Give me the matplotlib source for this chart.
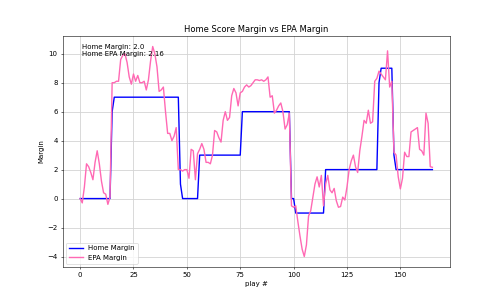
import numpy as np
import matplotlib
matplotlib.use("Agg")
import matplotlib.pyplot as plt

# home score margin after each play (0..165)
home_margin = (
    [0] * 15 +          # plays 0-14
    [6] +               # 15
    [7] * 31 +          # 16-46
    [1] +               # 47
    [0] * 8 +           # 48-55
    [3] * 20 +          # 56-75
    [6] * 23 +          # 76-98
    [0, 0] +            # 99-100
    [-1] * 14 +         # 101-114
    [2] * 25 +          # 115-139
    [8] +               # 140
    [9] * 6 +           # 141-146
    [3] +               # 147
    [2] * 18            # 148-165
)

# EPA based margin after each play
epa_margin = [
    0.0, -0.3, 0.8, 2.4, 2.2, 1.8, 1.3, 2.5, 3.3, 2.4,
    1.2, 0.4, 0.3, -0.4, 0.1, 8.0, 8.0, 8.1, 8.1, 9.6,
    9.9, 10.0, 9.4, 8.4, 7.9, 8.6, 8.1, 8.5, 8.0, 8.0,
    8.1, 7.5, 8.2, 9.5, 10.5, 10.0, 9.1, 7.4, 7.5, 7.7,
    6.0, 4.5, 4.5, 4.0, 4.3, 4.9, 2.0, 2.0, 1.9, 2.0,
    2.0, 1.4, 3.4, 3.3, 1.3, 3.1, 3.4, 3.8, 3.4, 2.5,
    2.5, 2.4, 3.0, 4.7, 4.6, 4.2, 3.9, 5.4, 6.0, 5.4,
    5.6, 7.1, 7.6, 7.3, 6.4, 7.3, 7.4, 7.7, 7.85, 7.7,
    7.8, 8.0, 8.2, 8.2, 8.15, 8.2, 8.1, 8.2, 8.4, 7.0,
    7.1, 5.9, 6.1, 6.4, 6.6, 6.0, 4.8, 5.1, 5.9, -0.5,
    -0.6, -0.5, -1.6, -2.6, -3.5, -4.0, -3.2, -1.2, -0.85, 0.1,
    1.0, 1.5, 0.8, 1.6, -0.5, 1.0, 1.6, 0.6, 0.4, 0.7,
    -0.15, -0.6, -0.55, 0.1, -0.1, 0.8, 2.0, 2.6, 3.0, 2.2,
    1.8, 3.3, 4.3, 5.4, 5.2, 6.1, 5.2, 5.3, 8.1, 8.3,
    8.8, 8.6, 8.4, 8.2, 10.2, 7.7, 8.1, 3.2, 3.0, 1.5,
    0.67, 1.4, 3.2, 2.9, 2.9, 4.6, 4.7, 4.8, 4.9, 3.4,
    3.3, 3.0, 5.9, 5.2, 2.2, 2.16,
]

plays = np.arange(len(home_margin))

fig, ax = plt.subplots(figsize=(10, 6), dpi=50)

ax.plot(plays, home_margin, color="blue", lw=2, label="Home Margin")
ax.plot(plays, epa_margin, color="hotpink", lw=2, label="EPA Margin")

ax.text(0.05, 0.965,
        f"Home Margin: {float(home_margin[-1])}\nHome EPA Margin: {epa_margin[-1]}",
        transform=ax.transAxes, va="top", ha="left", fontsize=10)

ax.set_title("Home Score Margin vs EPA Margin")
ax.set_xlabel("play #")
ax.set_ylabel("Margin")
ax.grid(True, color="lightgray", lw=1.2)
ax.legend(loc="lower left")

plt.savefig("out.png")
